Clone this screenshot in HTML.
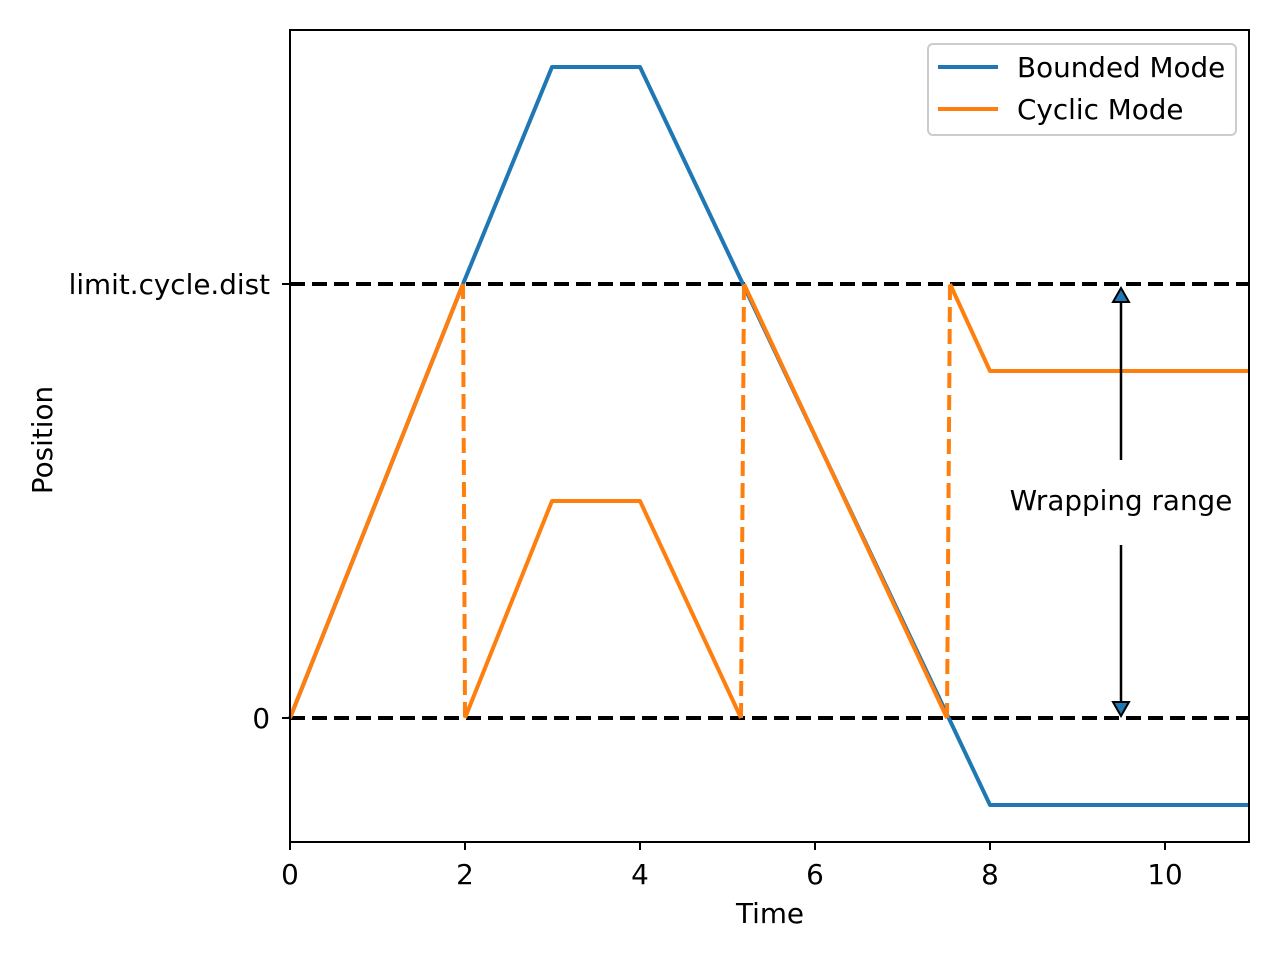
<!DOCTYPE html>
<html><head><style>body{margin:0;background:#fff}svg{display:block}</style></head><body>
<svg width="1280" height="960" xmlns="http://www.w3.org/2000/svg" font-family="DejaVu Sans, sans-serif" font-size="27.8">
<rect width="1280" height="960" fill="#fff"/>
<g fill="none" stroke-width="4" stroke-linejoin="round">
<line x1="290" y1="284" x2="1249" y2="284" stroke="#000" stroke-dasharray="15,7"/>
<line x1="290" y1="718" x2="1249" y2="718" stroke="#000" stroke-dasharray="15,7"/>
<polyline points="290,718 463,284 552,67 640,67 990,805 1249,805" stroke="#1f77b4"/>
<polyline points="290,718 463,284" stroke="#ff7f0e"/>
<line x1="463" y1="284" x2="465" y2="718" stroke="#ff7f0e" stroke-dasharray="15,7"/>
<polyline points="465,718 552,501 640,501 741,718" stroke="#ff7f0e"/>
<line x1="741" y1="718" x2="744" y2="284" stroke="#ff7f0e" stroke-dasharray="15,7"/>
<polyline points="744,284 947,718" stroke="#ff7f0e"/>
<line x1="947" y1="718" x2="950" y2="284" stroke="#ff7f0e" stroke-dasharray="15,7"/>
<polyline points="950,284 990,371 1249,371" stroke="#ff7f0e"/>
</g>
<g stroke="#000" stroke-width="2.5">
<line x1="1121" y1="460" x2="1121" y2="300"/>
<line x1="1121" y1="545" x2="1121" y2="702"/>
</g>
<polygon points="1121,288 1113,302 1129,302" fill="#1f77b4" stroke="#000" stroke-width="2"/>
<polygon points="1121,716 1113,702 1129,702" fill="#1f77b4" stroke="#000" stroke-width="2"/>
<text x="1121" y="510" text-anchor="middle">Wrapping range</text>
<rect x="290" y="30" width="959" height="812" fill="none" stroke="#000" stroke-width="2"/>
<g stroke="#000" stroke-width="2">
<line x1="290" y1="842" x2="290" y2="850"/><line x1="465" y1="842" x2="465" y2="850"/>
<line x1="640" y1="842" x2="640" y2="850"/><line x1="815" y1="842" x2="815" y2="850"/>
<line x1="990" y1="842" x2="990" y2="850"/><line x1="1165" y1="842" x2="1165" y2="850"/>
<line x1="282" y1="284" x2="290" y2="284"/><line x1="282" y1="718" x2="290" y2="718"/>
</g>
<g text-anchor="middle">
<text x="290" y="884">0</text><text x="465" y="884">2</text><text x="640" y="884">4</text>
<text x="815" y="884">6</text><text x="990" y="884">8</text><text x="1165" y="884">10</text>
<text x="770" y="923">Time</text>
</g>
<g text-anchor="end">
<text x="270" y="294">limit.cycle.dist</text>
<text x="270" y="728">0</text>
</g>
<text transform="translate(52,440) rotate(-90)" text-anchor="middle">Position</text>
<rect x="928" y="44" width="308" height="91" rx="5" fill="#fff" fill-opacity="0.8" stroke="#ccc" stroke-width="2"/>
<line x1="938" y1="67" x2="998" y2="67" stroke="#1f77b4" stroke-width="4"/>
<line x1="938" y1="109" x2="998" y2="109" stroke="#ff7f0e" stroke-width="4"/>
<text x="1017" y="77">Bounded Mode</text>
<text x="1017" y="119">Cyclic Mode</text>
</svg>
</body></html>
